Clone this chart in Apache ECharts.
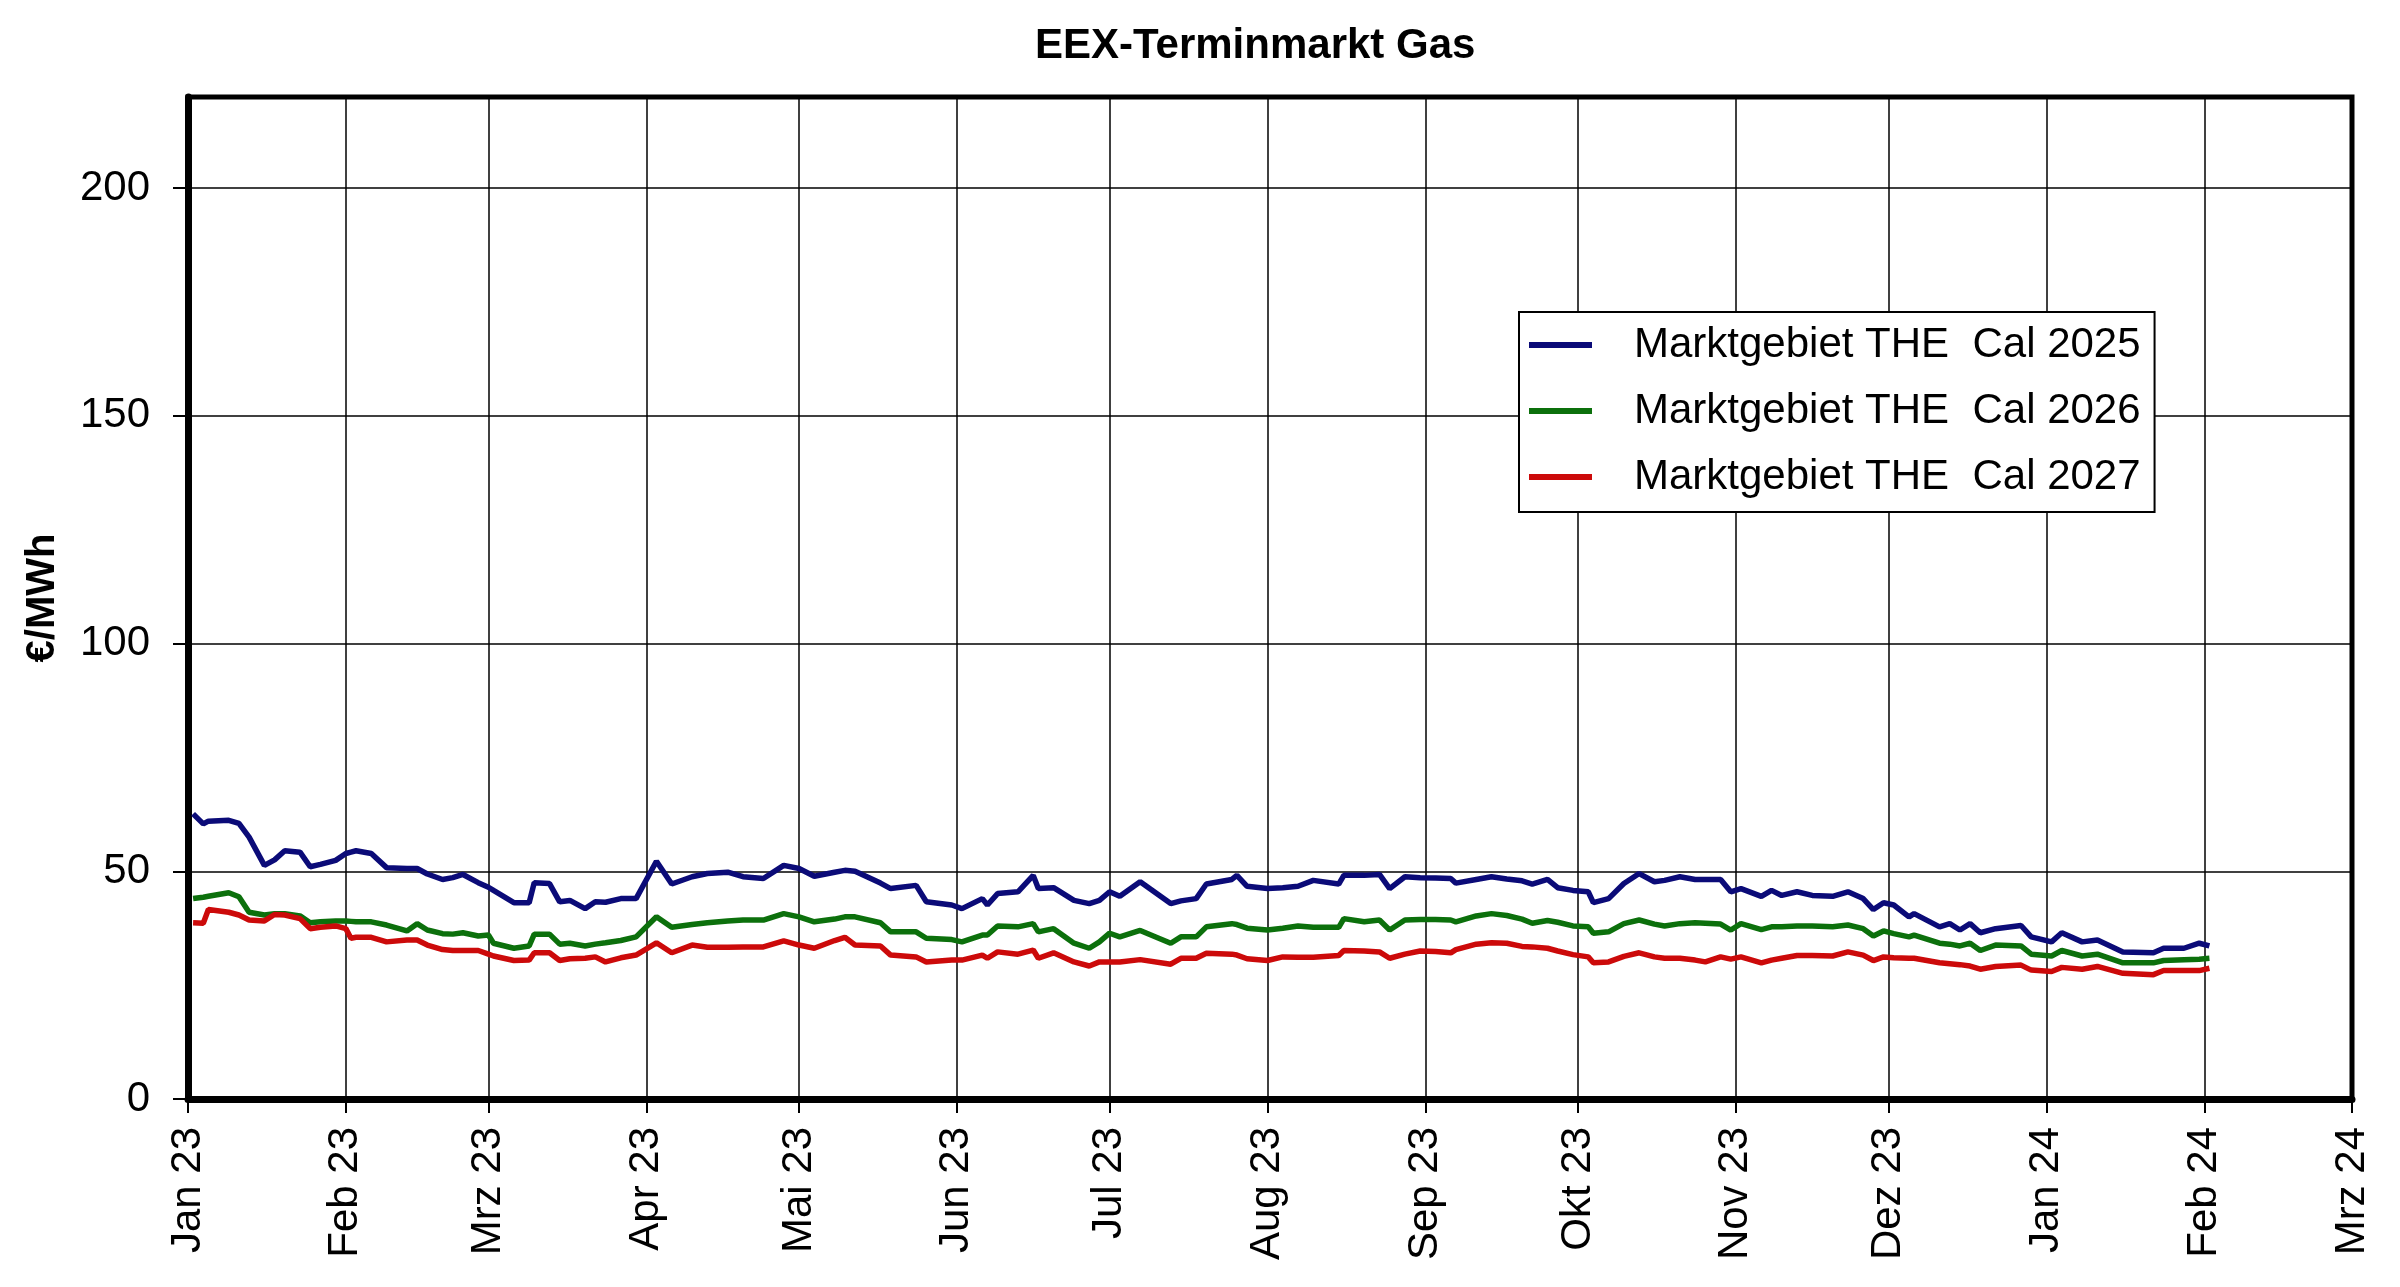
<!DOCTYPE html>
<html>
<head>
<meta charset="utf-8">
<title>EEX-Terminmarkt Gas</title>
<script src="https://cdn.jsdelivr.net/npm/echarts@6/dist/echarts.min.js"></script>
<style>
    html, body { margin: 0; padding: 0; background: #fff; }
    #chart { width: 2400px; height: 1287px; }
</style>
</head>
<body>
<div id="chart"></div>
<script>
// Handelstage (gelesen aus dem Bild)
var dates = [
    '2023-01-02','2023-01-04','2023-01-05','2023-01-09','2023-01-11','2023-01-13','2023-01-16','2023-01-18','2023-01-20','2023-01-23',
    '2023-01-25','2023-01-27','2023-01-30','2023-02-01','2023-02-02','2023-02-03','2023-02-06','2023-02-09','2023-02-13','2023-02-15',
    '2023-02-17','2023-02-20','2023-02-22','2023-02-24','2023-02-27','2023-03-01','2023-03-02','2023-03-06','2023-03-09','2023-03-10',
    '2023-03-13','2023-03-15','2023-03-17','2023-03-20','2023-03-22','2023-03-24','2023-03-27','2023-03-30','2023-04-03','2023-04-06',
    '2023-04-10','2023-04-13','2023-04-17','2023-04-20','2023-04-24','2023-04-28','2023-05-01','2023-05-04','2023-05-08','2023-05-10',
    '2023-05-12','2023-05-17','2023-05-19','2023-05-24','2023-05-26','2023-05-31','2023-06-02','2023-06-06','2023-06-07','2023-06-09',
    '2023-06-13','2023-06-16','2023-06-17','2023-06-20','2023-06-24','2023-06-27','2023-06-29','2023-07-01','2023-07-03','2023-07-07',
    '2023-07-13','2023-07-15','2023-07-18','2023-07-20','2023-07-25','2023-07-26','2023-07-28','2023-08-01','2023-08-04','2023-08-07',
    '2023-08-10','2023-08-15','2023-08-16','2023-08-20','2023-08-23','2023-08-25','2023-08-28','2023-08-31','2023-09-03','2023-09-06',
    '2023-09-07','2023-09-11','2023-09-14','2023-09-17','2023-09-20','2023-09-22','2023-09-25','2023-09-27','2023-09-30','2023-10-03',
    '2023-10-04','2023-10-07','2023-10-10','2023-10-13','2023-10-16','2023-10-18','2023-10-21','2023-10-24','2023-10-26','2023-10-29',
    '2023-10-31','2023-11-02','2023-11-06','2023-11-08','2023-11-10','2023-11-13','2023-11-16','2023-11-20','2023-11-23','2023-11-26',
    '2023-11-28','2023-11-30','2023-12-02','2023-12-05','2023-12-06','2023-12-11','2023-12-13','2023-12-15','2023-12-17','2023-12-19',
    '2023-12-22','2023-12-27','2023-12-29','2024-01-02','2024-01-04','2024-01-08','2024-01-11','2024-01-16','2024-01-22','2024-01-24',
    '2024-01-28','2024-01-31','2024-02-02'
];

// €/MWh
var cal2025 = [
    62.6,60.4,61.0,61.2,60.5,57.5,51.3,52.5,54.5,54.2,
    51.0,51.5,52.4,53.9,54.2,54.5,53.9,50.8,50.6,50.6,
    49.4,48.2,48.6,49.3,47.5,46.5,45.8,43.1,43.1,47.5,
    47.3,43.3,43.6,41.8,43.3,43.2,44.0,44.0,52.2,47.2,
    48.8,49.5,49.8,48.8,48.4,51.3,50.6,48.9,49.8,50.2,
    50.0,47.4,46.2,46.9,43.3,42.6,41.8,44.0,42.6,45.1,
    45.5,49.1,46.2,46.4,43.6,42.9,43.6,45.5,44.5,47.7,
    42.9,43.5,44.0,47.2,48.2,49.1,46.7,46.2,46.4,46.7,
    48.0,47.2,49.1,49.1,49.3,46.2,48.8,48.6,48.5,48.4,
    47.4,48.2,48.8,48.3,47.9,47.2,48.2,46.4,45.8,45.5,
    43.1,44.0,47.3,49.5,47.7,48.0,48.8,48.2,48.2,48.2,
    45.5,46.2,44.5,45.8,44.7,45.5,44.7,44.5,45.5,44.0,
    41.6,43.1,42.6,40.0,40.7,37.8,38.5,37.1,38.5,36.5,
    37.4,38.1,35.6,34.5,36.5,34.5,34.9,32.3,32.1,33.1,
    33.1,34.2,33.6
];
var cal2026 = [
    44.0,44.3,44.5,45.3,44.4,41.0,40.4,40.7,40.7,40.2,
    38.7,38.9,39.1,39.1,39.0,38.9,38.9,38.2,36.9,38.5,
    37.1,36.3,36.2,36.5,35.8,36.0,34.2,33.1,33.6,36.2,
    36.2,34.0,34.2,33.6,34.0,34.3,34.8,35.6,40.0,37.7,
    38.3,38.7,39.1,39.3,39.3,40.7,40.0,38.9,39.5,40.0,
    40.0,38.7,36.7,36.7,35.3,35.0,34.5,36.0,36.0,38.0,
    37.8,38.5,36.7,37.4,34.2,33.1,34.5,36.4,35.6,37.0,
    34.2,35.6,35.6,37.8,38.5,38.3,37.5,37.1,37.5,38.0,
    37.7,37.7,39.6,38.9,39.3,37.1,39.3,39.4,39.4,39.3,
    38.9,40.2,40.7,40.3,39.5,38.6,39.2,38.8,38.0,37.8,
    36.4,36.7,38.5,39.3,38.4,38.0,38.5,38.7,38.6,38.4,
    37.1,38.5,37.2,37.8,37.8,38.0,38.0,37.8,38.2,37.4,
    35.8,36.9,36.3,35.6,36.0,34.2,34.0,33.6,34.2,32.6,
    33.8,33.6,31.8,31.4,32.6,31.4,31.8,29.9,29.9,30.4,
    30.6,30.7,30.9
];
var cal2027 = [
    38.7,38.6,41.6,41.0,40.4,39.3,39.1,40.5,40.4,39.6,
    37.4,37.7,38.0,37.4,35.3,35.5,35.5,34.5,34.9,34.9,
    33.8,32.8,32.6,32.6,32.6,31.8,31.4,30.4,30.5,32.1,
    32.1,30.4,30.8,30.9,31.2,30.1,31.0,31.6,34.3,32.1,
    33.8,33.3,33.3,33.4,33.4,34.7,33.8,33.1,34.8,35.5,
    33.8,33.6,31.6,31.2,30.1,30.5,30.5,31.6,30.9,32.3,
    31.8,32.7,30.9,32.1,30.1,29.2,30.1,30.1,30.1,30.6,
    29.6,30.9,30.9,32.0,31.8,31.6,30.8,30.4,31.2,31.1,
    31.1,31.5,32.6,32.5,32.3,30.9,31.8,32.5,32.4,32.1,
    32.8,34.0,34.3,34.2,33.5,33.4,33.1,32.5,31.7,31.2,
    29.9,30.1,31.3,32.1,31.2,30.9,30.9,30.5,30.1,31.2,
    30.7,31.2,29.9,30.5,30.9,31.5,31.5,31.4,32.3,31.6,
    30.4,31.2,31.0,30.9,30.9,29.9,29.7,29.5,29.2,28.5,
    29.1,29.4,28.3,28.0,28.9,28.5,29.1,27.6,27.3,28.2,
    28.2,28.2,28.7
];

var seriesNames = ['Marktgebiet THE  Cal 2025', 'Marktgebiet THE  Cal 2026', 'Marktgebiet THE  Cal 2027'];
var seriesColors = ['#0b0b78', '#0c700c', '#cc0a0a'];
var monthNames = ['Jan', 'Feb', 'Mrz', 'Apr', 'Mai', 'Jun', 'Jul', 'Aug', 'Sep', 'Okt', 'Nov', 'Dez'];
var yTicks = [0, 50, 100, 150, 200];

function pairs(vals) {
    var out = [];
    for (var i = 0; i < dates.length; i++) {
        out.push([dates[i], vals[i]]);
    }
    return out;
}

var FONT = '"Liberation Sans", Arial, sans-serif';
var chart = echarts.init(document.getElementById('chart'));
var values = [cal2025, cal2026, cal2027];
var series = [];
for (var s = 0; s < values.length; s++) {
    series.push({
        name: seriesNames[s],
        type: 'line',
        showSymbol: false,
        lineStyle: { width: 5.5, color: seriesColors[s] },
        itemStyle: { color: seriesColors[s] },
        data: pairs(values[s])
    });
}

var option = {
    animation: false,
    backgroundColor: '#fff',
    textStyle: { fontFamily: FONT },
    title: {
        text: 'EEX-Terminmarkt Gas',
        left: 1030,
        top: 20,
        textStyle: { fontFamily: FONT, fontSize: 42, fontWeight: 'bold', color: '#000' }
    },
    legend: {
        orient: 'vertical',
        left: 1519,
        top: 312,
        padding: [12, 14, 14, 10],
        itemGap: 24,
        itemWidth: 63,
        itemHeight: 6,
        icon: 'rect',
        backgroundColor: '#fff',
        borderColor: '#000',
        borderWidth: 2,
        borderRadius: 0,
        textStyle: { fontFamily: FONT, fontSize: 42, color: '#000', padding: [0, 0, 0, 37] },
        data: seriesNames
    },
    grid: {
        left: 188,
        right: 48,
        top: 97,
        bottom: 188,
        show: true,
        borderColor: '#000',
        borderWidth: 5,
        backgroundColor: 'transparent'
    },
    xAxis: {
        type: 'time',
        min: '2023-01-01',
        max: '2024-03-01',
        splitNumber: 14,
        minInterval: 28 * 24 * 3600 * 1000,
        maxInterval: 31 * 24 * 3600 * 1000,
        axisLine: { onZero: false, lineStyle: { color: '#000', width: 7 } },
        axisTick: { show: true, length: 14, lineStyle: { color: '#000', width: 2 } },
        splitLine: { show: true, lineStyle: { color: '#000', width: 1.5 } },
        axisLabel: {
            rotate: 90,
            margin: 28,
            fontSize: 42,
            color: '#000',
            fontFamily: FONT,
            hideOverlap: false,
            formatter: function (v) {
                var d = new Date(v);
                return monthNames[d.getMonth()] + ' ' + String(d.getFullYear()).slice(2);
            }
        }
    },
    yAxis: {
        type: 'value',
        min: 0,
        max: 220,
        interval: 50,
        name: '€/MWh',
        nameLocation: 'middle',
        nameGap: 125,
        nameTextStyle: { fontFamily: FONT, fontSize: 40, fontWeight: 'bold', color: '#000' },
        axisLine: { show: true, lineStyle: { color: '#000', width: 7 } },
        axisTick: { show: true, length: 15, customValues: yTicks, lineStyle: { color: '#000', width: 2 } },
        splitLine: { show: true, lineStyle: { color: '#000', width: 1.5 } },
        axisLabel: {
            margin: 38,
            fontSize: 42,
            color: '#000',
            fontFamily: FONT,
            customValues: yTicks,
            formatter: function (v) { return v % 50 === 0 ? String(v) : ''; }
        }
    },
    series: series
};
chart.setOption(option);
</script>
</body>
</html>
